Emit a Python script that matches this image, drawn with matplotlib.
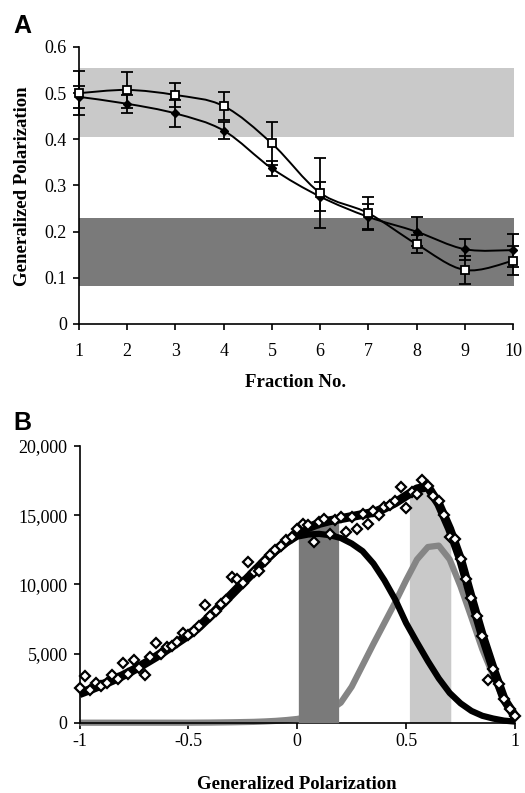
import numpy as np
import matplotlib
matplotlib.use("Agg")
from matplotlib import pyplot as plt
from matplotlib.path import Path
from matplotlib.patches import PathPatch, Rectangle

plt.rcParams['font.family'] = ['Liberation Serif', 'DejaVu Serif']

# ---- panel A data ----
fractions = [1, 2, 3, 4, 5, 6, 7, 8, 9, 10]
gp_open = [0.500, 0.507, 0.496, 0.472, 0.391, 0.284, 0.240, 0.173, 0.117, 0.137]
err_open = [0.048, 0.039, 0.026, 0.031, 0.046, 0.075, 0.035, 0.020, 0.031, 0.031]
gp_filled = [0.492, 0.477, 0.456, 0.419, 0.337, 0.276, 0.232, 0.200, 0.162, 0.160]
err_filled = [0.024, 0.020, 0.029, 0.019, 0.016, 0.032, 0.028, 0.032, 0.023, 0.036]
high_band = (0.405, 0.555)
low_band = (0.082, 0.229)

# ---- panel B data ----
gp_grid = [-1.00, -0.95, -0.90, -0.85, -0.80, -0.75, -0.70, -0.65, -0.60, -0.55,
           -0.50, -0.45, -0.40, -0.35, -0.30, -0.25, -0.20, -0.15, -0.10, -0.05,
           0.00, 0.05, 0.10, 0.15, 0.20, 0.25, 0.30, 0.35, 0.40, 0.45,
           0.50, 0.55, 0.60, 0.65, 0.70, 0.75, 0.80, 0.85, 0.90, 0.95, 1.00]
fit_total = [2100, 2400, 2720, 3050, 3420, 3830, 4280, 4750, 5270, 5800,
             6330, 6950, 7700, 8500, 9300, 10100, 10900, 11700, 12450, 13100,
             13700, 14100, 14400, 14600, 14750, 14900, 15050, 15200, 15500, 15900,
             16400, 16900, 17050, 15800, 14000, 11800, 9000, 6300, 3900, 1700, 450]
fit_low = [2100, 2400, 2720, 3050, 3420, 3830, 4280, 4750, 5270, 5800,
           6330, 6950, 7700, 8500, 9280, 10070, 10850, 11620, 12330, 12950,
           13450, 13600, 13650, 13550, 13350, 12950, 12400, 11500, 10300, 8900,
           7200, 5800, 4450, 3200, 2150, 1400, 850, 500, 300, 150, 80]
fit_high = [0, 0, 0, 0, 0, 0, 0, 0, 0, 0,
            0, 5, 10, 20, 30, 45, 60, 90, 130, 190,
            270, 420, 620, 900, 1450, 2600, 4150, 5700, 7200, 8700,
            10300, 11800, 12700, 12800, 11800, 9850, 7600, 5300, 3400, 1600, 450]

gp_points = [-1.000, -0.975, -0.950, -0.925, -0.900, -0.875, -0.850, -0.825, -0.800, -0.775,
             -0.750, -0.725, -0.700, -0.675, -0.650, -0.625, -0.600, -0.575, -0.550, -0.525,
             -0.500, -0.475, -0.450, -0.425, -0.400, -0.375, -0.350, -0.325, -0.300, -0.275,
             -0.250, -0.225, -0.200, -0.175, -0.150, -0.125, -0.100, -0.075, -0.050, -0.025,
             0.000, 0.025, 0.050, 0.075, 0.100, 0.125, 0.150, 0.175, 0.200, 0.225,
             0.250, 0.275, 0.300, 0.325, 0.350, 0.375, 0.400, 0.425, 0.450, 0.475,
             0.500, 0.525, 0.550, 0.575, 0.600, 0.625, 0.650, 0.675, 0.700, 0.725,
             0.750, 0.775, 0.800, 0.825, 0.850, 0.875, 0.900, 0.925, 0.950, 0.975, 1.000]
counts = [2480, 3370, 2350, 2840, 2650, 2900, 3440, 3150, 4350, 3550,
          4530, 3950, 3440, 4770, 5730, 5000, 5490, 5550, 5850, 6450,
          6350, 6600, 7000, 8500, 7700, 8100, 8550, 8900, 10540, 10400,
          10100, 11620, 10900, 11000, 11700, 12100, 12450, 12800, 13180, 13450,
          14020, 14380, 14300, 13060, 14500, 14700, 13660, 14650, 14860, 13780,
          14900, 14000, 15050, 14350, 15300, 15000, 15600, 15700, 16000, 17040,
          15490, 16700, 16560, 17520, 17100, 16400, 16000, 15000, 13430, 13300,
          11800, 10400, 9000, 7700, 6300, 3080, 3900, 2800, 1700, 1000, 450]
dark_band = (0.005, 0.19)
light_band = (0.515, 0.705)

LIGHT = '#c9c9c9'
DARK = '#7a7a7a'
GRAY_LINE = '#858585'


def smooth_line(ax, x, y, **kw):
    # Excel-style smoothed line (Catmull-Rom as cubic Bezier)
    pts = np.column_stack([x, y]).astype(float)
    n = len(pts)
    verts = [pts[0]]
    codes = [Path.MOVETO]
    for i in range(n - 1):
        p0 = pts[max(i - 1, 0)]
        p1 = pts[i]
        p2 = pts[i + 1]
        p3 = pts[min(i + 2, n - 1)]
        verts += [p1 + (p2 - p0) / 6, p2 - (p3 - p1) / 6, p2]
        codes += [Path.CURVE4] * 3
    ax.add_patch(PathPatch(Path(verts, codes), fill=False, **kw))


def style_axes(ax):
    for s in ['top', 'right']:
        ax.spines[s].set_visible(False)
    for s in ['left', 'bottom']:
        ax.spines[s].set_linewidth(1.2)
    ax.tick_params(direction='out', length=4.3, width=1.2, labelsize=13)


fig = plt.figure(figsize=(5.25, 7.93), dpi=100)

# ---------------- panel A ----------------
axA = fig.add_axes([79 / 525, 1 - 324 / 793, 434 / 525, 277 / 793])
style_axes(axA)
axA.add_patch(Rectangle((1, high_band[0]), 9.03, high_band[1] - high_band[0],
                        color=LIGHT, lw=0, zorder=0, clip_on=False))
axA.add_patch(Rectangle((1, low_band[0]), 9.03, low_band[1] - low_band[0],
                        color=DARK, lw=0, zorder=0, clip_on=False))

smooth_line(axA, fractions, gp_filled, ec='black', lw=1.4, zorder=3, clip_on=False)
smooth_line(axA, fractions, gp_open, ec='black', lw=1.4, zorder=3, clip_on=False)

eb1 = axA.errorbar(fractions, gp_filled, yerr=err_filled, fmt='D', ms=4.5,
                   mfc='black', mec='black', ecolor='black', elinewidth=1.3,
                   capsize=4.3, capthick=1.3, zorder=4)
eb2 = axA.errorbar(fractions, gp_open, yerr=err_open, fmt='s', ms=6,
                   mfc='white', mec='black', mew=1.3, ecolor='black', elinewidth=1.3,
                   capsize=4.3, capthick=1.3, zorder=5)
for eb in (eb1, eb2):
    for art in eb.lines[1] + eb.lines[2] + (eb.lines[0],):
        art.set_clip_on(False)

axA.set_xlim(1, 10)
axA.set_ylim(0, 0.6)
axA.set_xticks(fractions)
axA.set_yticks([0, 0.1, 0.2, 0.3, 0.4, 0.5, 0.6])
axA.set_yticklabels(['0', '0.1', '0.2', '0.3', '0.4', '0.5', '0.6'])
axA.tick_params(axis='x', pad=9.4)
axA.tick_params(axis='y', pad=4.3)

fig.text(296 / 525, 1 - 387 / 793, 'Fraction No.', ha='center', va='baseline',
         fontsize=13.5, fontweight='bold')
fig.text(23 / 525, 1 - 186 / 793, 'Generalized Polarization', ha='center', va='center',
         rotation=90, fontsize=13.5, fontweight='bold')
fig.text(13 / 525, 1 - 33 / 793, 'A', ha='left', va='baseline', fontsize=18,
         fontweight='bold', family='Liberation Sans')

# ---------------- panel B ----------------
axB = fig.add_axes([79.5 / 525, 1 - 722.7 / 793, 435.5 / 525, 276.7 / 793])
style_axes(axB)

xl = np.linspace(light_band[0], light_band[1], 30)
axB.fill_between(xl, 0, np.interp(xl, gp_grid, fit_total), color=LIGHT, lw=0, zorder=1)
axB.plot(gp_grid, fit_high, color=GRAY_LINE, lw=4.5, zorder=2, solid_capstyle='butt',
         solid_joinstyle='round', clip_on=False)
xd = np.linspace(dark_band[0], dark_band[1], 30)
axB.fill_between(xd, 0, np.interp(xd, gp_grid, fit_total), color=DARK, lw=0, zorder=3)
axB.plot(gp_grid, fit_low, color='black', lw=4.5, zorder=4, solid_capstyle='butt',
         solid_joinstyle='round', clip_on=False)
axB.plot(gp_grid, fit_total, color='black', lw=6.5, zorder=5, solid_capstyle='butt',
         solid_joinstyle='round', clip_on=False)
axB.plot(gp_points, counts, ls='none', marker='D', ms=5.2, mfc='white', mec='black',
         mew=1.6, zorder=6, clip_on=False)

axB.set_xlim(-1, 1)
axB.set_ylim(0, 20000)
axB.set_xticks([-1, -0.5, 0, 0.5, 1])
axB.set_xticklabels(['-1', '-0.5', '0', '0.5', '1'])
axB.set_yticks([0, 5000, 10000, 15000, 20000])
axB.set_yticklabels(['0', '5,000', '10,000', '15,000', '20,000'])
axB.tick_params(axis='x', pad=3)
axB.tick_params(axis='y', pad=4.3)

fig.text(297 / 525, 1 - 789 / 793, 'Generalized Polarization', ha='center', va='baseline',
         fontsize=13.5, fontweight='bold')
fig.text(13 / 525, 1 - 430 / 793, 'B', ha='left', va='baseline', fontsize=18,
         fontweight='bold', family='Liberation Sans')

fig.savefig('out.png', dpi=100)
